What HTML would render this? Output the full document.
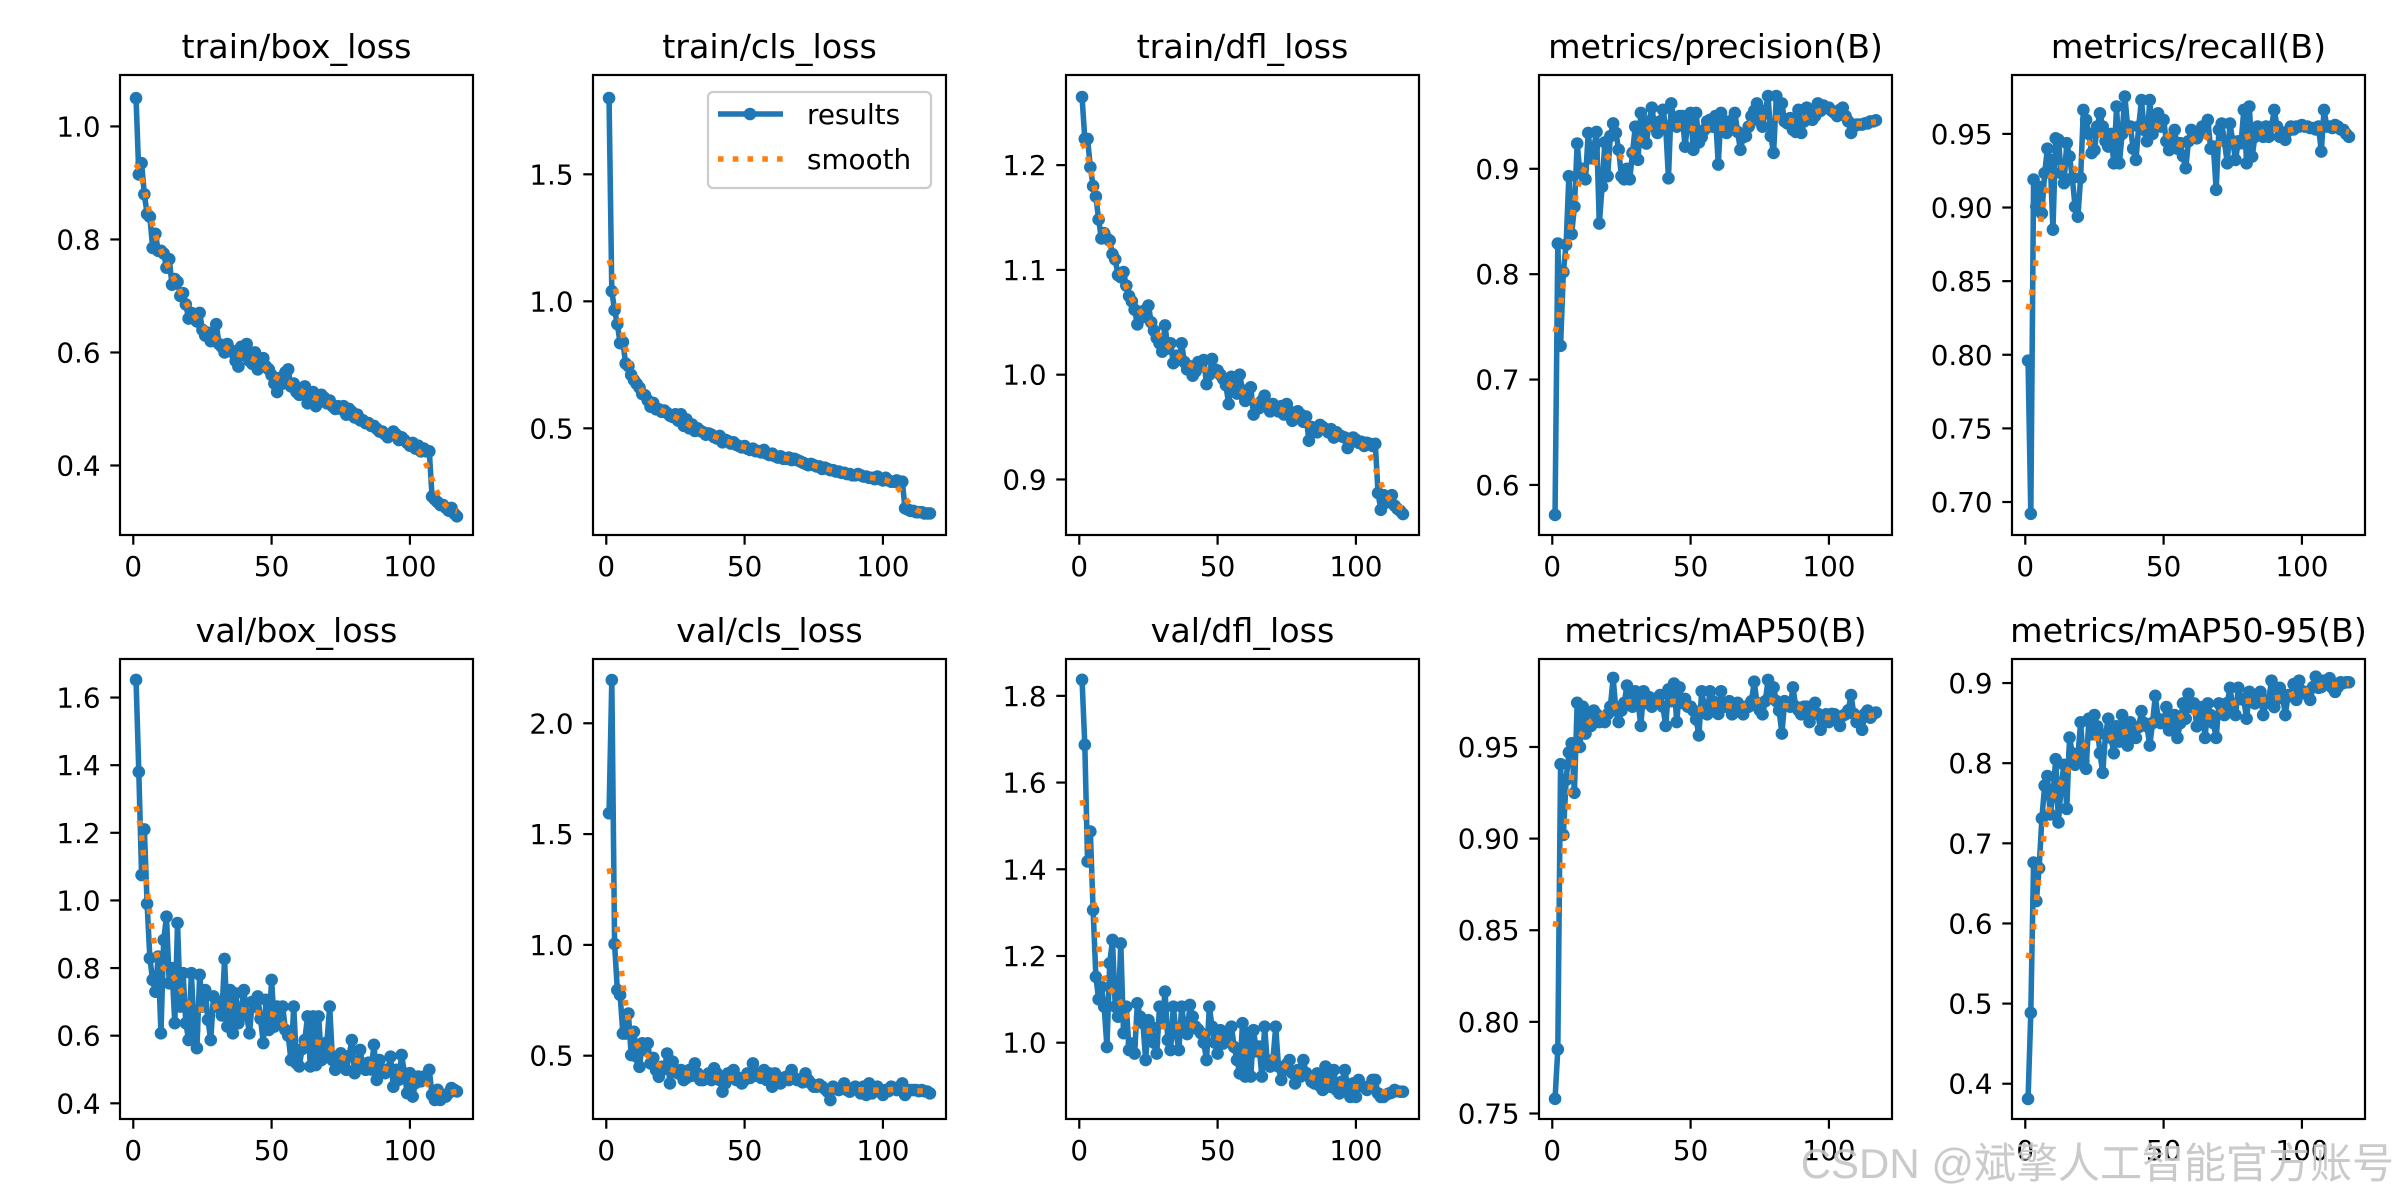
<!DOCTYPE html>
<html><head><meta charset="utf-8">
<style>
html,body{margin:0;padding:0;background:#fff;}
svg{display:block;font-family:"DejaVu Sans","Liberation Sans",sans-serif;}
</style></head>
<body>
<svg id="chart" width="2400" height="1200" viewBox="0 0 2400 1200" xmlns="http://www.w3.org/2000/svg">
<rect x="0" y="0" width="2400" height="1200" fill="#fff"/>
</svg>
<script>
const titles = ["train/box_loss","train/cls_loss","train/dfl_loss","metrics/precision(B)","metrics/recall(B)","val/box_loss","val/cls_loss","val/dfl_loss","metrics/mAP50(B)","metrics/mAP50-95(B)"];
const trainBox = [1.05,0.915,0.935,0.88,0.845,0.84,0.785,0.81,0.78,0.78,0.775,0.75,0.765,0.72,0.73,0.725,0.70,0.705,0.685,0.66,0.67,0.665,0.655,0.67,0.64,0.63,0.635,0.62,0.625,0.65,0.615,0.61,0.60,0.615,0.605,0.60,0.585,0.575,0.61,0.595,0.615,0.585,0.58,0.60,0.57,0.585,0.59,0.575,0.57,0.56,0.545,0.53,0.555,0.545,0.565,0.57,0.54,0.545,0.53,0.525,0.535,0.54,0.51,0.52,0.53,0.505,0.515,0.525,0.52,0.51,0.515,0.505,0.50,0.505,0.50,0.505,0.49,0.50,0.495,0.485,0.49,0.48,0.48,0.475,0.475,0.47,0.47,0.465,0.46,0.46,0.455,0.45,0.455,0.46,0.455,0.445,0.45,0.445,0.44,0.435,0.44,0.43,0.435,0.425,0.43,0.425,0.425,0.345,0.34,0.335,0.33,0.33,0.325,0.32,0.325,0.315,0.31];
const trainCls = [1.80,1.04,0.965,0.91,0.835,0.84,0.755,0.745,0.71,0.69,0.675,0.66,0.635,0.63,0.61,0.585,0.60,0.575,0.575,0.565,0.57,0.56,0.55,0.545,0.555,0.53,0.555,0.51,0.535,0.50,0.515,0.49,0.50,0.49,0.485,0.475,0.48,0.475,0.465,0.46,0.47,0.445,0.455,0.45,0.44,0.445,0.435,0.43,0.425,0.43,0.42,0.415,0.42,0.41,0.41,0.405,0.415,0.40,0.395,0.40,0.39,0.385,0.39,0.38,0.38,0.385,0.375,0.38,0.375,0.37,0.365,0.36,0.355,0.36,0.355,0.35,0.35,0.34,0.345,0.34,0.335,0.335,0.33,0.33,0.325,0.325,0.32,0.32,0.315,0.315,0.32,0.315,0.31,0.31,0.305,0.305,0.30,0.31,0.30,0.295,0.305,0.295,0.29,0.29,0.295,0.285,0.29,0.185,0.18,0.175,0.175,0.17,0.17,0.17,0.165,0.165,0.165];
const trainDfl = [1.265,1.225,1.225,1.198,1.18,1.17,1.148,1.13,1.135,1.13,1.128,1.115,1.11,1.095,1.093,1.098,1.085,1.075,1.07,1.062,1.048,1.06,1.055,1.062,1.066,1.05,1.042,1.035,1.03,1.022,1.047,1.025,1.03,1.011,1.018,1.015,1.030,1.012,1.005,1.008,0.999,1.003,1.012,1.008,1.014,0.991,1.0,1.015,1.005,1.004,1.0,0.996,0.99,0.972,0.998,0.99,0.982,1.0,0.985,0.975,0.978,0.988,0.962,0.97,0.968,0.975,0.98,0.972,0.965,0.972,0.968,0.965,0.97,0.962,0.972,0.965,0.956,0.96,0.965,0.962,0.955,0.96,0.937,0.95,0.948,0.945,0.952,0.95,0.948,0.945,0.948,0.94,0.945,0.942,0.941,0.94,0.930,0.935,0.94,0.938,0.935,0.936,0.932,0.935,0.934,0.932,0.934,0.887,0.871,0.885,0.878,0.88,0.885,0.875,0.872,0.87,0.867];
const precision = [0.5715,0.829,0.732,0.802,0.828,0.893,0.838,0.864,0.924,0.896,0.90,0.89,0.934,0.91,0.92,0.935,0.848,0.883,0.925,0.893,0.931,0.943,0.934,0.918,0.893,0.89,0.90,0.89,0.915,0.940,0.9085,0.953,0.935,0.924,0.945,0.958,0.94,0.934,0.945,0.956,0.94,0.891,0.962,0.945,0.94,0.95,0.95,0.921,0.945,0.953,0.918,0.953,0.925,0.93,0.937,0.945,0.9465,0.94,0.95,0.904,0.953,0.94,0.934,0.945,0.94,0.953,0.935,0.918,0.93,0.931,0.94,0.95,0.955,0.962,0.945,0.94,0.955,0.969,0.931,0.915,0.969,0.955,0.962,0.945,0.943,0.948,0.937,0.935,0.956,0.934,0.945,0.958,0.953,0.9465,0.95,0.962,0.955,0.96,0.958,0.958,0.955,0.953,0.95,0.956,0.958,0.95,0.945,0.934,0.94,0.942,0.942,0.942,0.943,0.943,0.945,0.945,0.946];
const recall = [0.796,0.692,0.919,0.9006,0.914,0.896,0.9233,0.940,0.9323,0.885,0.947,0.946,0.9233,0.9165,0.9437,0.9346,0.92,0.9006,0.8938,0.920,0.9663,0.9595,0.95,0.937,0.939,0.955,0.964,0.955,0.945,0.9414,0.95,0.930,0.9686,0.930,0.95,0.9754,0.955,0.955,0.94,0.9323,0.955,0.973,0.9527,0.945,0.973,0.95,0.955,0.964,0.955,0.9595,0.945,0.939,0.945,0.9527,0.94,0.9437,0.935,0.9267,0.945,0.9527,0.95,0.947,0.95,0.955,0.955,0.9595,0.940,0.9414,0.912,0.9527,0.957,0.945,0.930,0.957,0.945,0.9323,0.945,0.9437,0.9663,0.930,0.9686,0.9346,0.948,0.955,0.95,0.948,0.955,0.948,0.955,0.9663,0.955,0.948,0.95,0.946,0.952,0.955,0.953,0.955,0.955,0.956,0.955,0.955,0.954,0.954,0.953,0.955,0.938,0.9663,0.955,0.955,0.954,0.956,0.955,0.953,0.9527,0.95,0.948];
const valBox = [1.652,1.38,1.075,1.21,0.99,0.829,0.765,0.73,0.834,0.607,0.883,0.952,0.755,0.80,0.637,0.933,0.686,0.785,0.637,0.587,0.785,0.617,0.563,0.78,0.686,0.735,0.647,0.587,0.716,0.686,0.70,0.66,0.827,0.627,0.735,0.607,0.725,0.637,0.68,0.735,0.66,0.607,0.70,0.686,0.716,0.65,0.578,0.706,0.617,0.765,0.627,0.686,0.65,0.686,0.617,0.60,0.528,0.686,0.518,0.509,0.56,0.587,0.657,0.509,0.657,0.513,0.657,0.528,0.55,0.58,0.686,0.528,0.499,0.53,0.548,0.52,0.499,0.54,0.587,0.489,0.52,0.558,0.51,0.499,0.52,0.50,0.573,0.469,0.528,0.50,0.489,0.50,0.538,0.449,0.499,0.47,0.543,0.489,0.43,0.489,0.42,0.46,0.479,0.465,0.479,0.47,0.499,0.425,0.41,0.44,0.41,0.42,0.42,0.43,0.445,0.44,0.435];
const valCls = [1.594,2.195,1.004,0.796,0.774,0.60,0.60,0.69,0.503,0.608,0.495,0.45,0.556,0.526,0.556,0.465,0.49,0.435,0.405,0.45,0.44,0.51,0.375,0.473,0.43,0.42,0.435,0.39,0.40,0.435,0.41,0.465,0.42,0.39,0.39,0.40,0.42,0.39,0.443,0.42,0.39,0.338,0.375,0.42,0.40,0.435,0.39,0.40,0.375,0.39,0.42,0.40,0.465,0.41,0.42,0.40,0.435,0.39,0.42,0.36,0.42,0.39,0.375,0.40,0.405,0.39,0.435,0.40,0.39,0.39,0.38,0.42,0.39,0.375,0.36,0.36,0.37,0.36,0.35,0.338,0.30,0.36,0.35,0.345,0.35,0.375,0.345,0.338,0.35,0.36,0.345,0.33,0.36,0.323,0.375,0.33,0.345,0.36,0.34,0.323,0.345,0.34,0.36,0.35,0.345,0.36,0.375,0.323,0.34,0.345,0.345,0.345,0.34,0.345,0.34,0.338,0.33];
const valDfl = [1.837,1.687,1.418,1.487,1.306,1.152,1.10,1.129,1.083,0.99,1.183,1.237,1.083,1.06,1.229,1.022,1.083,0.983,0.998,0.975,1.091,1.06,1.045,0.96,1.052,1.037,1.0,0.975,1.083,1.045,1.118,1.006,0.983,1.083,1.022,0.983,1.083,1.037,1.02,1.087,1.06,1.037,1.03,1.022,1.0,0.96,1.083,1.037,1.0,0.975,1.029,0.998,1.01,1.014,1.037,0.99,0.96,0.929,1.045,0.922,1.022,0.922,1.029,0.98,0.991,0.922,1.037,0.952,0.945,0.96,1.037,0.945,0.914,0.937,0.95,0.96,0.93,0.906,0.937,0.922,0.96,0.93,0.922,0.91,0.906,0.929,0.90,0.891,0.945,0.91,0.898,0.937,0.891,0.883,0.91,0.937,0.898,0.875,0.906,0.875,0.914,0.9,0.898,0.891,0.9,0.914,0.914,0.883,0.875,0.875,0.88,0.883,0.885,0.891,0.888,0.887,0.887];
const map50 = [0.758,0.785,0.9406,0.902,0.932,0.947,0.952,0.925,0.9741,0.95,0.972,0.9573,0.9678,0.9615,0.9699,0.9678,0.9636,0.9657,0.9636,0.9678,0.972,0.9877,0.9699,0.9636,0.9699,0.974,0.9835,0.9762,0.972,0.9804,0.975,0.9615,0.9804,0.974,0.9772,0.972,0.9762,0.975,0.9783,0.972,0.9615,0.9814,0.975,0.9846,0.9636,0.9825,0.974,0.9762,0.972,0.972,0.9699,0.965,0.9563,0.9804,0.972,0.9678,0.9804,0.975,0.972,0.968,0.9804,0.972,0.972,0.975,0.9678,0.972,0.9741,0.97,0.9678,0.972,0.972,0.975,0.9856,0.9741,0.97,0.9678,0.975,0.9866,0.978,0.9825,0.975,0.9699,0.9573,0.975,0.9741,0.972,0.9825,0.972,0.97,0.9678,0.972,0.972,0.9636,0.97,0.9741,0.968,0.9594,0.965,0.9678,0.9636,0.968,0.9678,0.965,0.9615,0.967,0.9678,0.97,0.9783,0.968,0.9636,0.965,0.9594,0.968,0.9699,0.966,0.9678,0.9688];
const map5095 = [0.381,0.4885,0.676,0.628,0.669,0.731,0.772,0.784,0.736,0.76,0.805,0.726,0.774,0.798,0.743,0.832,0.8124,0.798,0.8077,0.851,0.803,0.793,0.8555,0.836,0.86,0.846,0.8124,0.788,0.836,0.8555,0.8316,0.8124,0.846,0.827,0.86,0.841,0.822,0.851,0.84,0.8316,0.845,0.865,0.85,0.846,0.822,0.85,0.884,0.8555,0.85,0.851,0.87,0.841,0.85,0.86,0.8316,0.85,0.8746,0.8555,0.8866,0.87,0.8746,0.846,0.86,0.87,0.8316,0.8746,0.86,0.85,0.8316,0.8746,0.87,0.86,0.875,0.894,0.87,0.86,0.894,0.88,0.879,0.8555,0.889,0.88,0.8746,0.885,0.889,0.86,0.875,0.879,0.903,0.87,0.88,0.894,0.884,0.86,0.885,0.884,0.8986,0.879,0.903,0.89,0.889,0.885,0.879,0.895,0.908,0.894,0.895,0.903,0.9,0.906,0.894,0.889,0.895,0.901,0.9,0.901,0.901];
const xTicks = [0,50,100];
const yTickSets = [[0.4,0.6,0.8,1.0],[0.5,1.0,1.5],[0.9,1.0,1.1,1.2],[0.6,0.7,0.8,0.9],[0.70,0.75,0.80,0.85,0.90,0.95],[0.4,0.6,0.8,1.0,1.2,1.4,1.6],[0.5,1.0,1.5,2.0],[1.0,1.2,1.4,1.6,1.8],[0.75,0.80,0.85,0.90,0.95],[0.4,0.5,0.6,0.7,0.8,0.9]];
const yDecimals = [1,1,1,1,2,1,1,1,2,1];
const yLims = [[0.277,1.091],[0.080,1.891],[0.847,1.286],[0.5525,0.989],[0.6776,0.990],[0.3536,1.714],[0.2144,2.290],[0.824,1.885],[0.747,0.998],[0.356,0.930]];
const series = [trainBox,trainCls,trainDfl,precision,recall,valBox,valCls,valDfl,map50,map5095];

const NS = "http://www.w3.org/2000/svg";
const svg = document.getElementById("chart");
function mk(tag, attrs, parent){ const e=document.createElementNS(NS,tag); for(const k in attrs) e.setAttribute(k,attrs[k]); (parent||svg).appendChild(e); return e; }
function gauss(y, sigma){
  const r = Math.round(4*sigma), n=y.length, w=[]; let s=0;
  for(let i=-r;i<=r;i++){ const v=Math.exp(-0.5*i*i/(sigma*sigma)); w.push(v); s+=v; }
  const out=[];
  for(let i=0;i<n;i++){ let acc=0;
    for(let k=-r;k<=r;k++){ let j=i+k;
      while(j<0||j>=n){ if(j<0) j=-j-1; if(j>=n) j=2*n-j-1; }
      acc+=w[k+r]*y[j]; }
    out.push(acc/s); }
  return out;
}
const colL=[120,593,1066,1539,2012], rowT=[75,659], W=353, H=460;
const slug = t => t.replace(/[^a-z0-9]+/gi,'-').replace(/-+$/,'').toLowerCase();
series.forEach((ys, idx) => {
  const L = colL[idx%5], T = rowT[Math.floor(idx/5)], B=T+H, R=L+W;
  const n = ys.length, xmin=1, xmax=n, pad=(xmax-xmin)*0.05;
  const x0=xmin-pad, x1=xmax+pad;
  const [y0,y1] = yLims[idx];
  const sx = v => L + (v-x0)/(x1-x0)*W;
  const sy = v => B - (v-y0)/(y1-y0)*H;
  const g = mk("g",{});
  
  
  const ttl = mk("text",{x:L+W/2,y:T-17,"text-anchor":"middle","font-size":"33.3px",fill:"#000"},g);
  ttl.textContent = titles[idx];
  
  
  const pts = ys.map((v,i)=>sx(i+1).toFixed(2)+","+sy(v).toFixed(2)).join(" ");
  const line = mk("polyline",{points:pts,fill:"none",stroke:"#1f77b4","stroke-width":5.56,"stroke-linejoin":"round","stroke-linecap":"butt"},g);
  
  
  ys.forEach((v,i)=>{
    const c = mk("circle",{cx:sx(i+1).toFixed(2),cy:sy(v).toFixed(2),r:6.3,fill:"#1f77b4"},g);
    
    
  });
  const sm = gauss(ys,3);
  const spts = sm.map((v,i)=>sx(i+1).toFixed(2)+","+sy(v).toFixed(2)).join(" ");
  const sl = mk("polyline",{points:spts,fill:"none",stroke:"#ff7f0e","stroke-width":5.56,"stroke-dasharray":"5.56 9.2"},g);
  
  
  const fr = mk("rect",{x:L,y:T,width:W,height:H,fill:"none",stroke:"#000","stroke-width":2.2},g);
  
  
  xTicks.forEach(t=>{
    const X=sx(t);
    mk("line",{x1:X,y1:B,x2:X,y2:B+9.7,stroke:"#000","stroke-width":2.2},g);
    const tl = mk("text",{x:X,y:B+41,"text-anchor":"middle","font-size":"27.8px",fill:"#000"},g);
    tl.textContent = String(t);
    
    
  });
  yTickSets[idx].forEach(t=>{
    const Y=sy(t);
    mk("line",{x1:L-9.7,y1:Y,x2:L,y2:Y,stroke:"#000","stroke-width":2.2},g);
    const tl = mk("text",{x:L-19.4,y:Y+10,"text-anchor":"end","font-size":"27.8px",fill:"#000"},g);
    tl.textContent = t.toFixed(yDecimals[idx]);
    
    
  });
});
const lg = mk("g",{});


mk("rect",{x:708,y:92,width:223,height:96,rx:5,fill:"#fff","fill-opacity":0.8,stroke:"#cccccc","stroke-width":2.2},lg);
mk("line",{x1:718,y1:114,x2:783,y2:114,stroke:"#1f77b4","stroke-width":5.56},lg);
mk("circle",{cx:750,cy:114,r:6.3,fill:"#1f77b4"},lg);
const lt1 = mk("text",{x:807,y:124,"font-size":"27.8px",fill:"#000"},lg); lt1.textContent="results";


mk("line",{x1:718,y1:159,x2:783,y2:159,stroke:"#ff7f0e","stroke-width":5.56,"stroke-dasharray":"5.56 9.2"},lg);
const lt2 = mk("text",{x:807,y:169,"font-size":"27.8px",fill:"#000"},lg); lt2.textContent="smooth";


const wm = mk("text",{x:2394,y:1178,"text-anchor":"end","font-size":"42px",fill:"#c4c4c4","fill-opacity":0.9,"font-family":"\"Liberation Sans\",\"Noto Sans CJK SC\",sans-serif"});
wm.textContent = "CSDN @斌擎人工智能官方账号";


</script>
</body></html>
